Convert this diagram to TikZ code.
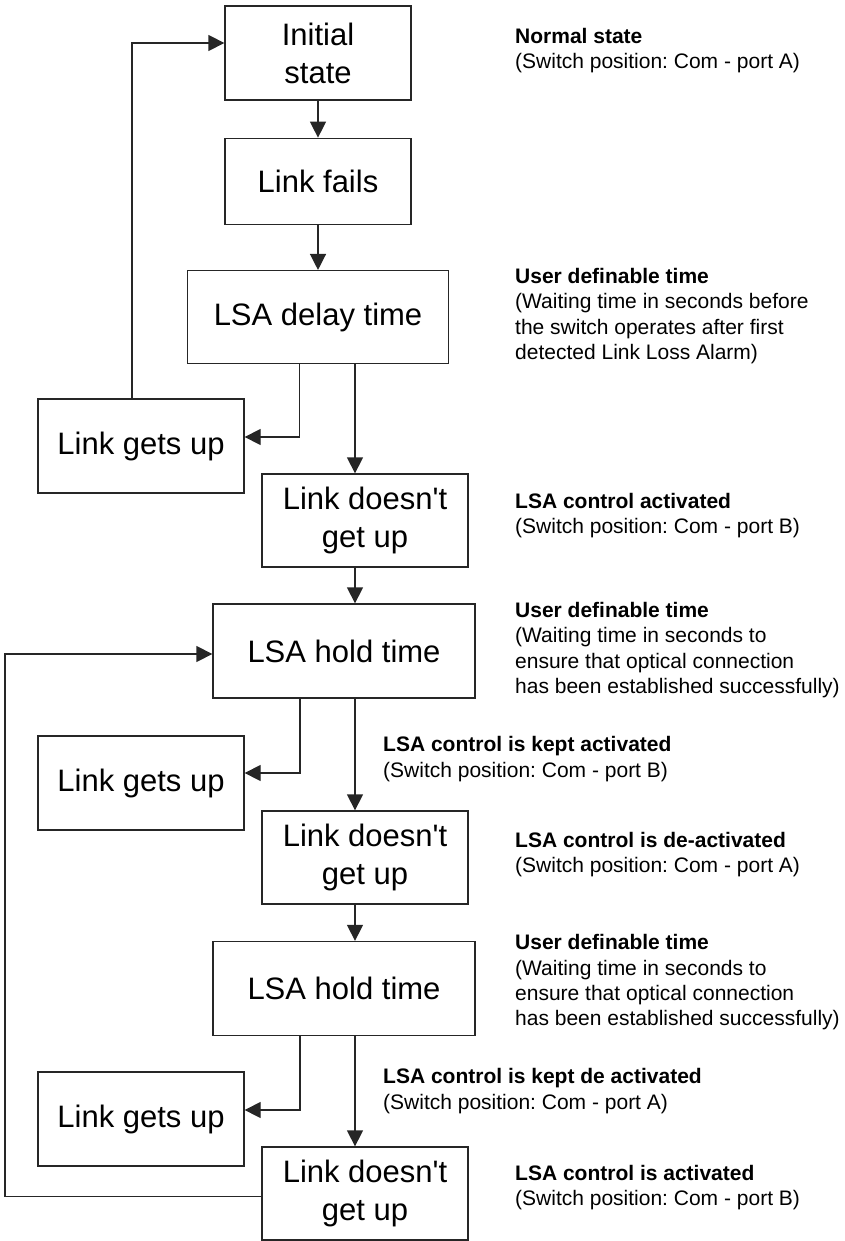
\documentclass[tikz,border=0pt]{standalone}
\usepackage{fontspec}
\setmainfont{Liberation Sans}
\usepackage{tikz}
\usetikzlibrary{arrows.meta,positioning,calc}
\definecolor{edgegray}{HTML}{262626}
\frenchspacing
\tikzset{
  statebox/.style={draw=edgegray,line width=1.3pt,inner sep=0pt,minimum width=206pt,minimum height=93pt,align=center,font=\fontsize{31}{38}\selectfont},
  arrow/.style={-{Triangle[length=16pt,width=16pt]},line width=1.3pt,edgegray},
  note/.style={anchor=west,inner sep=0pt,align=left,font=\fontsize{21}{25.3}\selectfont}
}

\begin{document}
\begin{tikzpicture}[x=1pt,y=-1pt]
  \useasboundingbox (0,0) rectangle (844,1241);
  % Main sequence
  \node[statebox,minimum width=186pt,minimum height=94pt] (init) at (318,53) {Initial\\state};
  \node[statebox,minimum width=186pt,minimum height=86pt,below=37pt of init] (fails) {Link fails};
  \node[statebox,minimum width=261pt,below=45pt of fails] (delay) {LSA delay time};
  \node[statebox,minimum height=94pt] (upone) at (141,446) {Link gets up};
  \node[statebox] (downone) at (365,520.5) {Link doesn\textquotesingle t\\get up};
  \node[statebox,minimum width=262pt,minimum height=94pt] (holdone) at (344,651) {LSA hold time};
  \node[statebox,minimum height=94pt] (uptwo) at (141,783) {Link gets up};
  \node[statebox] (downtwo) at (365,857.5) {Link doesn\textquotesingle t\\get up};
  \node[statebox,minimum width=262pt,minimum height=94pt] (holdtwo) at (344,988.5) {LSA hold time};
  \node[statebox,minimum height=94pt] (upthree) at (141,1119) {Link gets up};
  \node[statebox] (downthree) at (365,1193.5) {Link doesn\textquotesingle t\\get up};
  \coordinate (loopx) at (5,0);

  \draw[arrow] (init) -- (fails);
  \draw[arrow] (fails.south) -- (fails.south |- delay.north);
  \draw[arrow] ([xshift=-18.5pt]delay.south) |- ([yshift=9pt]upone.east);
  \draw[arrow] ([xshift=-10pt]downone.north |- delay.south) -- ([xshift=-10pt]downone.north);
  \draw[arrow] ([xshift=-9pt]upone.north) |- ([yshift=10pt]init.west);
  \draw[arrow] ([xshift=-10pt]downone.south) -- ([xshift=-10pt]downone.south |- holdone.north);
  \draw[arrow] ([xshift=-44pt]holdone.south) |- ([yshift=10pt]uptwo.east);
  \draw[arrow] ([xshift=-10pt]downtwo.north |- holdone.south) -- ([xshift=-10pt]downtwo.north);
  \draw[arrow] ([xshift=-10pt]downtwo.south) -- ([xshift=-10pt]downtwo.south |- holdtwo.north);
  \draw[arrow] ([xshift=-44pt]holdtwo.south) |- ([yshift=9pt]upthree.east);
  \draw[arrow] ([xshift=-10pt]downthree.north |- holdtwo.south) -- ([xshift=-10pt]downthree.north);
  \draw[arrow] ([yshift=-3pt]downthree.west) -- ([yshift=-3pt]downthree.west -| loopx) |- ([yshift=-3pt]holdone.west);

  % Notes
  \node[note] (noteinit) at (515,50.5) {\textbf{Normal state}\\(Switch position: Com - port A)};
  \node[note] (notedelay) at (515,316) {\textbf{User definable time}\\(Waiting time in seconds before\\the switch operates after first\\detected Link Loss Alarm)};
  \node[note] (notedownone) at (515,515.5) {\textbf{LSA control activated}\\(Switch position: Com - port B)};
  \node[note] (noteholdone) at (515,650) {\textbf{User definable time}\\(Waiting time in seconds to\\ensure that optical connection\\has been established successfully)};
  \node[note] (notekeptone) at (383,759) {\textbf{LSA control is kept activated}\\(Switch position: Com - port B)};
  \node[note] (notedowntwo) at (515,854.5) {\textbf{LSA control is de-activated}\\(Switch position: Com - port A)};
  \node[note] (noteholdtwo) at (515,982.5) {\textbf{User definable time}\\(Waiting time in seconds to\\ensure that optical connection\\has been established successfully)};
  \node[note] (notekepttwo) at (383,1091) {\textbf{LSA control is kept de activated}\\(Switch position: Com - port A)};
  \node[note] (notedownthree) at (515,1187.5) {\textbf{LSA control is activated}\\(Switch position: Com - port B)};
\end{tikzpicture}
\end{document}
